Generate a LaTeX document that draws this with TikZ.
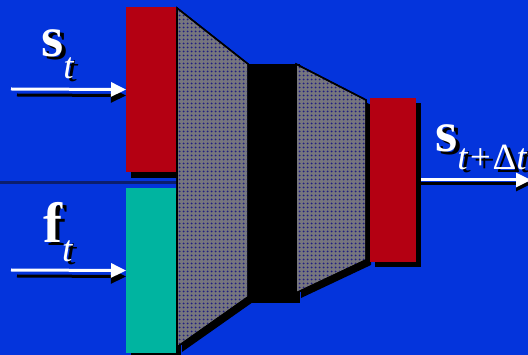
\documentclass[tikz,border=0pt]{standalone}
\usepackage{fontspec}
\setmainfont{Liberation Serif}
\usetikzlibrary{arrows.meta,patterns.meta}
\definecolor{bgblue}{RGB}{4,52,220}
\definecolor{boxred}{RGB}{180,0,18}
\definecolor{boxteal}{RGB}{0,180,160}
\definecolor{dotgray}{RGB}{118,118,126}
\definecolor{dotnavy}{RGB}{32,30,130}
\definecolor{linenavy}{RGB}{12,30,110}
\newcommand\shad[1]{\makebox[0pt][l]{\hspace{4pt}\raisebox{-3pt}{\color{black}#1}}{\color{white}#1}}
\newcommand\lblbig{\fontsize{57}{60}\selectfont\bfseries}
\newcommand\lblsub{\fontsize{37}{40}\selectfont\mdseries\itshape}
\tikzset{
  box/.style={inner sep=0pt, outer sep=0pt, minimum width=#1},
  boxshadow/.style={fill=black},
  trap/.style={fill=dotgray, draw=black, line width=1.5pt, line join=miter},
  trapdots/.style={pattern={Dots[distance=4pt,radius=1.25pt]}, pattern color=dotnavy},
  arr/.style={draw=white, line width=3pt, -{Triangle[length=15pt,width=14pt]}},
  arrshadow/.style={draw=black, line width=3pt, -{Triangle[length=15pt,width=14pt]}},
  lbl/.style={inner sep=0pt, anchor=base west}
}
\begin{document}
\begin{tikzpicture}[x=1pt,y=-1pt]
\fill[bgblue] (0,0) rectangle (528,355);
\useasboundingbox (0,0) rectangle (528,355);
% separator line
\draw[linenavy, line width=3pt] (0,182.5) -- (178,182.5);
% shadows
\fill[boxshadow] (131,13) rectangle (181,178);
\fill[boxshadow] (131,194) rectangle (181,358);
\fill[boxshadow] (182,13) -- (253,69) -- (253,302) -- (182,352) -- cycle;
\fill[boxshadow] (248,64) rectangle (300,303);
\fill[boxshadow] (301,69) -- (371,105) -- (371,265) -- (301,298) -- cycle;
\fill[boxshadow] (375,103) rectangle (421,267);
% boxes
\node[box=50pt, minimum height=165pt, fill=boxred, anchor=north west] (rs) at (126,7) {};
\node[box=50pt, minimum height=165pt, fill=boxteal, anchor=north west] (tf) at (126,188) {};
\node[box=46pt, minimum height=164pt, fill=boxred, anchor=north west] (ro) at (370,98) {};
% trapezoids
\draw[trap] (177,8) -- (248,64) -- (248,297) -- (177,347) -- cycle;
\fill[trapdots] (177,8) -- (248,64) -- (248,297) -- (177,347) -- cycle;
\fill[black] (248,64) rectangle (296,298);
\draw[trap] (296,64) -- (366,100) -- (366,260) -- (296,293) -- cycle;
\fill[trapdots] (296,64) -- (366,100) -- (366,260) -- (296,293) -- cycle;
\draw[black, line width=1.5pt] (177,8) -- (248,64) -- (248,297) -- (177,347) -- cycle;
\draw[black, line width=1.5pt] (296,64) -- (366,100) -- (366,260) -- (296,293) -- cycle;
% input arrows
\coordinate (a1) at (11,89);
\coordinate (a2) at (11,270);
\draw[arrshadow] ([shift={(6,6)}]a1) -- ([shift={(0,6)}]rs.west);
\draw[arr] (a1) -- (rs.west);
\draw[arrshadow] ([shift={(6,6)}]a2) -- ([shift={(0,6)}]tf.west);
\draw[arr] (a2) -- (tf.west);
% output arrow
\coordinate (a3) at (531,180);
\draw[arrshadow] ([shift={(5,4)}]ro.east) -- ([shift={(0,4)}]a3);
\draw[arr] ([shift={(5,0)}]ro.east) -- (a3);
% labels
\node[lbl] (ls) at (41,57) {\shad{\lblbig s\lblsub\raisebox{-22pt}{t}}};
\node[lbl] (lf) at (43,243) {\shad{\lblbig f\lblsub\raisebox{-19pt}{t}}};
\node[lbl] (lo) at (435,152) {\shad{\lblbig s\lblsub\raisebox{-18pt}{t+\textup{Δ}t}}};
\end{tikzpicture}
\end{document}
